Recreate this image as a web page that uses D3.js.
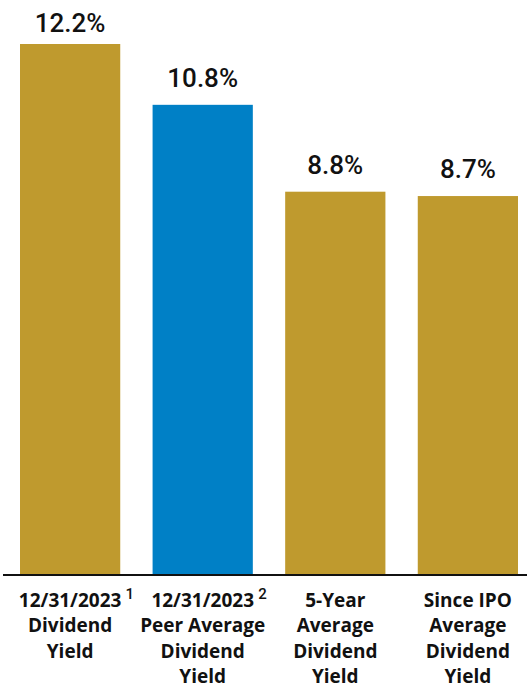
<!DOCTYPE html>
<html>
<head>
<meta charset="utf-8">
<script src="https://cdn.jsdelivr.net/npm/d3@7"></script>
<style>
  body { margin: 0; background: #fff; }
  text { font-family: Roboto, "DejaVu Sans", sans-serif; fill: #111; }
  text.cat { font-family: "Open Sans", Roboto, sans-serif; }
</style>
</head>
<body>
<div id="chart"></div>
<script>
// chart values
var categories = ["div", "peer", "fiveYear", "sinceIpo"];
var values = [12.2, 10.8, 8.8, 8.7];
var valueLabels = ["12.2%", "10.8%", "8.8%", "8.7%"];
var labelLines = [
    ["12/31/2023", "Dividend", "Yield"],
    ["12/31/2023", "Peer Average", "Dividend", "Yield"],
    ["5-Year", "Average", "Dividend", "Yield"],
    ["Since IPO", "Average", "Dividend", "Yield"]
];
var footnotes = ["1", "2", "", ""];
var barColors = ["#bf9a2e", "#0080c6", "#bf9a2e", "#bf9a2e"];

var W = 527, H = 689;
var margin = { left: 0, right: 0, top: 44, bottom: 115 };
var width = W - margin.left - margin.right;
var height = H - margin.top - margin.bottom;

var svg = d3.select("#chart").append("svg")
    .attr("width", W)
    .attr("height", H);
var g = svg.append("g")
    .attr("transform", "translate(" + margin.left + "," + margin.top + ")");

var x = d3.scaleBand()
    .domain(categories)
    .range([20, 518])
    .paddingInner(0.244)
    .paddingOuter(0);

var y = d3.scaleLinear()
    .domain([0, 12.2])
    .range([height, 0]);

// bars
g.selectAll(".bar")
    .data(values)
    .enter().append("rect")
    .attr("class", "bar")
    .attr("x", function(d, i) { return x(categories[i]); })
    .attr("y", function(d) { return y(d); })
    .attr("width", x.bandwidth())
    .attr("height", function(d) { return height - y(d); })
    .attr("fill", function(d, i) { return barColors[i]; });

// value labels (top one is pushed down by the page edge)
g.selectAll(".val")
    .data(values)
    .enter().append("text")
    .attr("class", "val")
    .attr("x", function(d, i) { return x(categories[i]) + x.bandwidth() / 2; })
    .attr("y", function(d) { return Math.max(y(d) - 18, 32 - margin.top); })
    .attr("text-anchor", "middle")
    .attr("font-size", "26px")
    .attr("font-weight", 500)
    .text(function(d, i) { return valueLabels[i]; });

// axis line
var xAxis = g.append("g")
    .attr("class", "x axis")
    .attr("transform", "translate(0," + height + ")")
    .call(d3.axisBottom(x).tickSize(0).tickFormat(""));
xAxis.select(".domain")
    .attr("stroke", "#111")
    .attr("stroke-width", 2)
    .attr("d", "M3,1H" + W);

// category labels, one line per row
categories.forEach(function(c, i) {
    var cx = x(c) + x.bandwidth() / 2;
    labelLines[i].forEach(function(line, j) {
        var t = g.append("text")
            .attr("class", "cat")
            .attr("x", cx)
            .attr("y", height + 33 + j * 25.3)
            .attr("text-anchor", "middle")
            .attr("font-size", "19px")
            .attr("font-weight", "bold")
            .text(line);
        if (j == 0 && footnotes[i] != "") {
            var bb = t.node().getBBox();
            g.append("text")
                .attr("x", bb.x + bb.width + 4)
                .attr("y", height + 25)
                .attr("font-size", "15px")
                .attr("font-weight", 500)
                .text(footnotes[i]);
        }
    });
});
</script>
</body>
</html>
